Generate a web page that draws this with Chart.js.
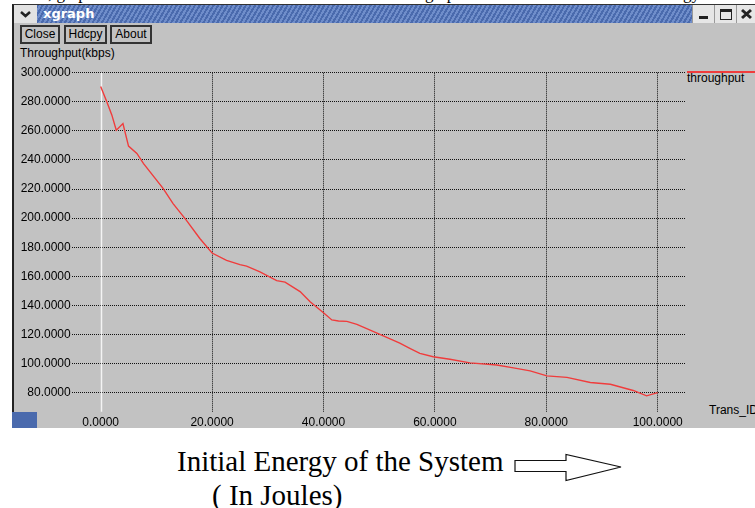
<!DOCTYPE html>
<html>
<head>
<meta charset="utf-8">
<script src="https://cdn.jsdelivr.net/npm/chart.js@4.4.0/dist/chart.umd.min.js"></script>
<style>
body { margin: 0; width: 755px; height: 508px; position: relative; overflow: hidden; background: #fff; font-family: "Liberation Sans", Arial, sans-serif; }
.abs { position: absolute; }
#top { left: 0; top: 0; width: 755px; height: 4px; overflow: hidden; font-family: "Liberation Serif", serif; font-size: 17px; line-height: 17px; }
#top span { position: absolute; top: -15px; }
#body { left: 12px; top: 4px; width: 743px; height: 424px; background: #c2c2c2; border-left: 2px solid #222; border-top: 1px solid #333; box-sizing: border-box; }
#title { left: 37px; top: 5px; width: 655px; height: 18px; background: repeating-linear-gradient(120deg, #4a6aad 0px, #4a6aad 2px, #6f8dca 2px, #6f8dca 4px); }
#title span { position: absolute; left: 6px; top: 1px; color: #fff; font: bold 13px "DejaVu Sans", sans-serif; }
#menu { left: 14px; top: 5px; width: 23px; height: 18px; background: #e2e2e2; }
.ctl { top: 5px; width: 22px; height: 18px; background: #e6e6e6; border-left: 1px solid #999; box-sizing: border-box; }
.btn { top: 25px; height: 19px; border: 2px solid #333; box-sizing: border-box; font-size: 12px; line-height: 15px; text-align: center; color: #000; }
.lbl { font-size: 12px; color: #000; white-space: nowrap; }
#chartBox { left: 14px; top: 60px; width: 741px; height: 368px; }
.cap { font-family: "Liberation Serif", serif; font-size: 29px; line-height: 29px; color: #000; white-space: nowrap; }
</style>
</head>
<body>
<div id="top" class="abs"><span style="left:48px">, graph</span><span style="left:425px">graph</span><span style="left:654px">energy</span></div>
<div id="body" class="abs"></div>
<div id="menu" class="abs"><svg width="23" height="18"><polyline points="7,7 11.5,11 16,7" fill="none" stroke="#222" stroke-width="2.5"/></svg></div>
<div id="title" class="abs"><span>xgraph</span></div>
<div class="abs ctl" style="left:692px"><svg width="22" height="18"><rect x="6" y="11" width="9" height="3" fill="#222"/></svg></div>
<div class="abs ctl" style="left:714px"><svg width="22" height="18"><rect x="5.5" y="4.5" width="11" height="10" fill="none" stroke="#222"/><rect x="5" y="4" width="12" height="3" fill="#222"/></svg></div>
<div class="abs ctl" style="left:736px;width:19px"><svg width="19" height="18"><path d="M5,5 L14,13 M14,5 L5,13" stroke="#222" stroke-width="3"/></svg></div>
<div class="abs" style="left:12px;top:412px;width:25px;height:16px;background:#4a6aad"></div>
<div class="abs btn" style="left:20px;width:40px">Close</div>
<div class="abs btn" style="left:64px;width:43px">Hdcpy</div>
<div class="abs btn" style="left:110px;width:42px">About</div>
<div class="abs lbl" style="left:20px;top:46px">Throughput(kbps)</div>
<div class="abs" style="left:687px;top:71px;width:68px;height:2px;background:#f03c3c"></div>
<div class="abs lbl" style="left:687px;top:71px">throughput</div>
<div class="abs lbl" style="left:709px;top:403px">Trans_ID</div>
<div id="chartBox" class="abs"><canvas id="chart" width="741" height="368"></canvas></div>
<div class="abs cap" style="left:177px;top:447px">Initial Energy of the System</div>
<svg class="abs" style="left:510px;top:450px" width="120" height="36">
  <polygon points="5,10.5 56,10.5 56,4.5 111,17 56,30.5 56,21.5 5,21.5" fill="#fff" stroke="#111" stroke-width="1.2"/>
</svg>
<div class="abs cap" style="left:212px;top:481px">( In Joules)</div>

<script>
// initial energy (J) and throughput (kbps)
const energy = [0, 1.1, 2, 2.8, 4, 5, 6.5, 7.7, 11.2, 13, 15.4, 17.8, 20, 22.6, 25, 26.2, 28.6, 31.6, 33.1, 35.8,
  37.6, 40, 41.5, 42.7, 44.2, 46, 49, 53.7, 55.5, 57.3, 59.7, 62.7, 66.3, 71.1, 74.1, 77.1, 80.1, 83.7, 87.9, 91.5,
  95.6, 98, 100];
const throughput = [290.5, 280, 271, 260.5, 265, 249.5, 244.5, 237.5, 220.5, 210, 198.5, 186, 176, 171, 168, 167, 163, 157, 156, 149.5,
  142.5, 135, 130, 129.3, 129, 127, 122, 114, 110.5, 107, 104.7, 103, 100.5, 99, 97, 95, 91.5, 90.5, 87, 85.8,
  81.5, 77.8, 80];
const xTicks = [0, 20, 40, 60, 80, 100];
const yTicks = [80, 100, 120, 140, 160, 180, 200, 220, 240, 260, 280, 300];

// xgraph draws the x = 0 axis as a white line
const zeroLine = {
  id: 'zeroLine',
  beforeDatasetsDraw(chart) {
    const { ctx, chartArea, scales } = chart;
    const px = Math.round(scales.x.getPixelForValue(0)) + 0.5;
    ctx.save();
    ctx.strokeStyle = '#f4f4f4';
    ctx.lineWidth = 1.5;
    ctx.beginPath();
    ctx.moveTo(px, chartArea.top);
    ctx.lineTo(px, chartArea.bottom);
    ctx.stroke();
    ctx.restore();
  }
};

const tickFont = { family: 'Liberation Sans', size: 12 };

new Chart(document.getElementById('chart'), {
  type: 'line',
  data: {
    datasets: [{
      label: 'throughput',
      data: energy.map((e, i) => ({ x: e, y: throughput[i] })),
      borderColor: '#f03c3c',
      borderWidth: 1.4,
      pointRadius: 0,
      tension: 0
    }]
  },
  options: {
    responsive: false,
    animation: false,
    layout: { padding: { top: 12.7, right: 70, left: 0, bottom: 0 } },
    plugins: { legend: { display: false }, tooltip: { enabled: false } },
    scales: {
      x: {
        type: 'linear',
        min: -5.2,
        max: 104.9,
        afterBuildTicks: s => { s.ticks = xTicks.map(v => ({ value: v })); },
        afterFit: s => { s.height = 16.3; s.paddingLeft = 0; s.paddingRight = 0; },
        grid: { color: c => (c.tick && c.tick.value === 0) ? 'rgba(0,0,0,0)' : '#111', drawTicks: false },
        border: { display: false, dash: [1, 1] },
        ticks: { autoSkip: false, maxRotation: 0, padding: 4, color: '#000', font: tickFont, callback: v => v.toFixed(4) }
      },
      y: {
        type: 'linear',
        min: 66.9,
        max: 300,
        afterBuildTicks: s => { s.ticks = yTicks.map(v => ({ value: v })); },
        afterFit: s => { s.width = 57.7; s.paddingTop = 0; s.paddingBottom = 0; },
        grid: { color: '#111', drawTicks: false },
        border: { display: false, dash: [1, 1] },
        ticks: { autoSkip: false, padding: 1, color: '#000', font: tickFont, callback: v => v.toFixed(4) }
      }
    }
  },
  plugins: [zeroLine]
});
</script>
</body>
</html>
